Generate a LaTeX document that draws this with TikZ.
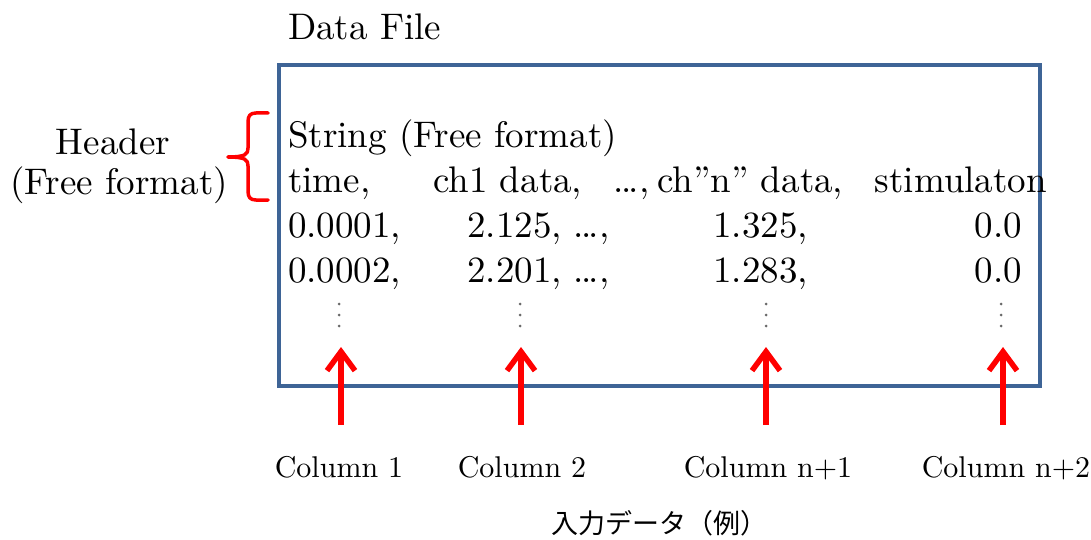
\documentclass[tikz,border=0pt]{standalone}
\usepackage{fontspec}
\setmainfont{lmroman10-regular.otf}
\newfontfamily\jpfont{Noto Sans CJK JP}
\usetikzlibrary{arrows.meta}
\definecolor{frameblue}{RGB}{62,100,150}
\definecolor{markred}{RGB}{255,0,0}
\definecolor{dotgrey}{RGB}{105,105,105}
\newcommand{\tightdots}{.\kern-2.5pt.\kern-2.5pt.}
\begin{document}
\begin{tikzpicture}[x=1pt,y=-1pt,
  txt/.style={inner sep=0pt, font=\fontsize{37}{44}\selectfont},
  lbl/.style={inner sep=0pt, font=\fontsize{30}{34}\selectfont},
  jp/.style={inner sep=0pt, font=\jpfont\fontsize{27}{32}\selectfont},
  frame/.style={draw=frameblue, line width=3.5pt},
  brace/.style={draw=markred, line width=3.5pt, line cap=round, line join=round},
  pointer/.style={draw=markred, line width=5.5pt,
    -{Straight Barb[length=19pt,width=28pt,sharp]}},
  vdot/.style={circle, fill=dotgrey, inner sep=0pt, minimum size=3pt}]
\useasboundingbox (0,0) rectangle (1091,540);

% title and frame of the file
\node[txt, anchor=base west] (title) at (288,40) {Data File};
\draw[frame] (279,65) rectangle (1040,386);

% header description with its brace
\node[txt, anchor=base] (hd1) at (113,155) {Header};
\node[txt, anchor=base] (hd2) at (119,194) {(Free format)};
\coordinate (brtop) at (268,113);
\coordinate (brtip) at (228,157);
\coordinate (brbot) at (268,200);
\draw[brace] (brtop) -- (256,113) .. controls (250,113) and (248,116) .. (248,122)
  -- (248,148) .. controls (248,154) and (246,157) .. (brtip);
\draw[brace] (brtip) .. controls (246,157) and (248,160) .. (248,166)
  -- (248,191) .. controls (248,197) and (250,200) .. (256,200) -- (brbot);

% file contents
\node[txt, anchor=base west] (str) at (288,148) {String (Free format)};

\node[txt, anchor=base west] (h1) at (288,193) {time,};
\node[txt, anchor=base west] (h2) at (433,193) {ch1 data,};
\node[txt, anchor=base west] (h3) at (613,193) {\tightdots,};
\node[txt, anchor=base west] (h4) at (657,193) {ch”n” data,};
\node[txt, anchor=base east] (h5) at (1047,193) {stimulaton};

\node[txt, anchor=base west] (r11) at (288,237) {0.0001,};
\node[txt, anchor=base east] (r12) at (562,237) {2.125,};
\node[txt, anchor=base west] (r13) at (573,237) {\tightdots,};
\node[txt, anchor=base east] (r14) at (808,237) {1.325,};
\node[txt, anchor=base east] (r15) at (1022,237) {0.0};

\node[txt, anchor=base west] (r21) at (288,282) {0.0002,};
\node[txt, anchor=base east] (r22) at (562,282) {2.201,};
\node[txt, anchor=base west] (r23) at (573,282) {\tightdots,};
\node[txt, anchor=base east] (r24) at (808,282) {1.283,};
\node[txt, anchor=base east] (r25) at (1022,282) {0.0};

% continuation dots of each column
\foreach \cx [count=\i] in {339,520,766,1001} {
  \node[vdot] (d\i a) at (\cx,304) {};
  \node[vdot] (d\i b) at (\cx,315) {};
  \node[vdot] (d\i c) at (\cx,326) {};
}

% column pointers and their labels
\foreach \ax/\lx/\txt [count=\i] in {341/339/Column 1, 521/522/Column 2,
    766/768/Column n+1, 1003/1006/Column n+2} {
  \coordinate (p\i s) at (\ax,425);
  \coordinate (p\i e) at (\ax,347);
  \draw[pointer] (p\i s) -- (p\i e);
  \node[lbl, anchor=base] (c\i) at (\lx,477) {\txt};
}

% caption
\node[jp, anchor=base] (cap) at (659,533) {入力データ（例）};
\end{tikzpicture}
\end{document}
